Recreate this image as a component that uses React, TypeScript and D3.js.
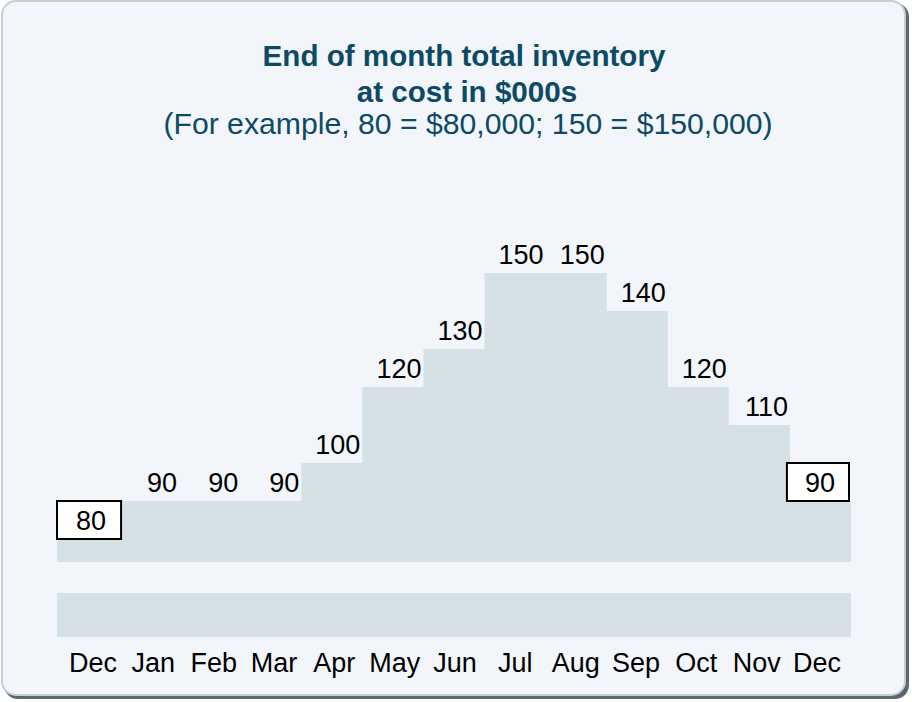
import React from "react";
import * as d3 from "d3";

const months = ["Dec", "Jan", "Feb", "Mar", "Apr", "May", "Jun", "Jul", "Aug", "Sep", "Oct", "Nov", "Dec"];
const inventory = [80, 90, 90, 90, 100, 120, 130, 150, 150, 140, 120, 110, 90];
const titleLines = ["End of month total inventory", "at cost in $000s"];
const subtitle = "(For example, 80 = $80,000; 150 = $150,000)";

const W = 912;
const H = 702;
const FONT = "'Liberation Sans', Arial, Helvetica, sans-serif";
const TITLE_COLOR = "#0d4a64";
const FILL = "#d6e1e5";
const BG = "#f2f5fa";

export default function App() {
  const n = months.length;
  const x = d3.scaleLinear().domain([0, n]).range([57, 851]);
  const y = d3.scaleLinear().domain([80, 150]).range([539, 273]);
  const baseY = 562;
  const labelX = d3.scalePoint<number>().domain(d3.range(n)).range([93, 817]);

  const pts = inventory.map((v, i) => ({ i, v })).concat([{ i: n, v: inventory[n - 1] }]);
  const area = d3
    .area<{ i: number; v: number }>()
    .x((d) => x(d.i))
    .y0(baseY)
    .y1((d) => y(d.v))
    .curve(d3.curveStepAfter);

  return (
    <svg width={W} height={H} style={{ position: "absolute", left: 0, top: 0 }} fontFamily={FONT}>
      <rect x={0} y={0} width={W} height={H} fill="#ffffff" />
      {/* panel shadow + panel */}
      <rect x={4} y={3} width={905} height={696} rx={14} fill="#5f666c" />
      <rect x={2} y={1} width={903} height={694} rx={14} fill={BG} stroke="#c2d0d9" strokeWidth={2} />

      {/* titles */}
      <text x={464} y={66} textAnchor="middle" fontSize={29.6} fontWeight="bold" fill={TITLE_COLOR}>
        {titleLines[0]}
      </text>
      <text x={467} y={102} textAnchor="middle" fontSize={29.6} fontWeight="bold" fill={TITLE_COLOR}>
        {titleLines[1]}
      </text>
      <text x={468} y={134} textAnchor="middle" fontSize={30.2} fill={TITLE_COLOR}>
        {subtitle}
      </text>

      {/* stepped inventory area */}
      <path d={area(pts) || ""} fill={FILL} />
      {/* lower broken-axis band */}
      <rect x={x(0)} y={593} width={x(n) - x(0)} height={44} fill={FILL} />

      {/* value labels */}
      {inventory.map((v, i) => {
        if (i === 0 || i === n - 1) {
          const bx0 = i === 0 ? x(i) : x(i) - 3;
          const bx1 = i === 0 ? x(i + 1) + 3 : x(i + 1) - 2;
          const by0 = y(v + 10);
          const by1 = y(v);
          return (
            <g key={i}>
              <rect x={bx0} y={by0} width={bx1 - bx0} height={by1 - by0} fill="#ffffff" stroke="#000" strokeWidth={2} />
              <text x={(bx0 + bx1) / 2 + 2} y={by1 - 9} textAnchor="middle" fontSize={27} fill="#000">
                {v}
              </text>
            </g>
          );
        }
        return (
          <text key={i} x={x(i + 1) - 2} y={y(v) - 9} textAnchor="end" fontSize={27} fill="#000">
            {v}
          </text>
        );
      })}

      {/* month labels */}
      {months.map((m, i) => (
        <text key={i} x={labelX(i)} y={672} textAnchor="middle" fontSize={27} fill="#000">
          {m}
        </text>
      ))}
    </svg>
  );
}
